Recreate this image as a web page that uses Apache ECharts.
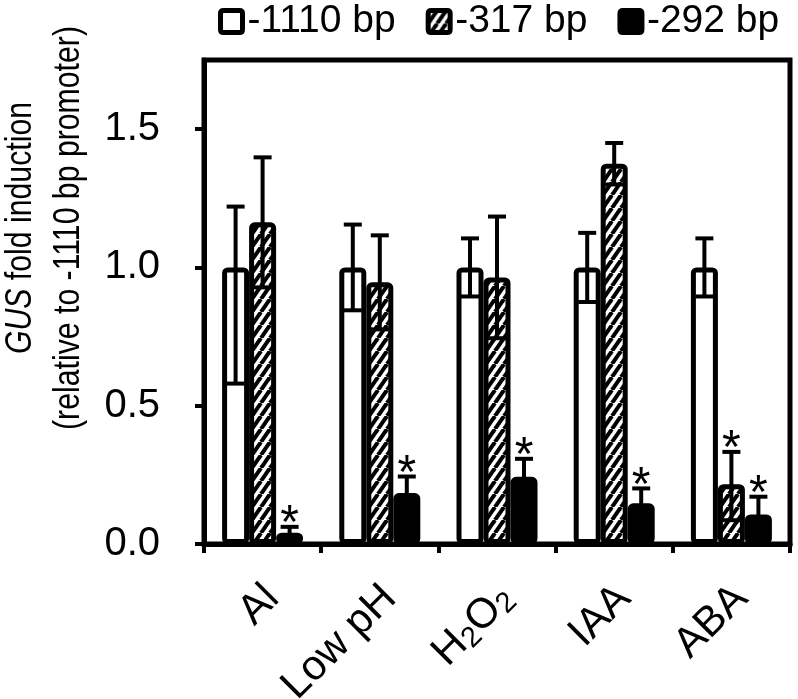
<!DOCTYPE html>
<html>
<head>
<meta charset="utf-8">
<script src="https://cdn.jsdelivr.net/npm/echarts@6/dist/echarts.min.js"></script>
<style>
html,body{margin:0;padding:0;background:#fff;}
#chart{width:798px;height:699px;}
</style>
</head>
<body>
<div id="chart"></div>
<script>
// ---- data ----
var categories = ['Al', 'Low pH', 'H2O2', 'IAA', 'ABA'];
var seriesNames = ['-1110 bp', '-317 bp', '-292 bp'];
var bp1110 = [1.0, 1.0, 1.0, 1.0, 1.0];
var bp1110ErrUp = [0.22, 0.155, 0.105, 0.125, 0.105];
var bp1110ErrLo = [0.42, 0.155, 0.105, 0.125, 0.105];
var bp317 = [1.163, 0.946, 0.964, 1.375, 0.216];
var bp317ErrUp = [0.235, 0.17, 0.22, 0.075, 0.117];
var bp317ErrLo = [0.235, 0.17, 0.22, 0.075, 0.13];
var bp292 = [0.041, 0.184, 0.243, 0.147, 0.107];
var bp292ErrUp = [0.021, 0.06, 0.065, 0.054, 0.064];
var bp292ErrLo = [0.021, 0.06, 0.065, 0.054, 0.064];
var sig1110 = [false, false, false, false, false];
var sig317 = [false, false, false, false, true];
var sig292 = [true, true, true, true, true];
var yTicks = [0, 0.5, 1.0, 1.5];
var yAxisTitle1 = '{i|GUS} fold induction';
var yAxisTitle2 = '(relative to -1110 bp promoter)';

// ---- hatch pattern ----
function makeHatch() {
  var w = 9, h = 13;
  var c = document.createElement('canvas');
  c.width = w; c.height = h;
  var ctx = c.getContext('2d');
  ctx.fillStyle = '#fff';
  ctx.fillRect(0, 0, w, h);
  ctx.strokeStyle = '#000';
  ctx.lineWidth = 4;
  for (var k = -1; k <= 1; k++) {
    ctx.beginPath();
    ctx.moveTo(k * w, h);
    ctx.lineTo(k * w + w, 0);
    ctx.stroke();
  }
  return c;
}
var hatch = makeHatch();

var chart = echarts.init(document.getElementById('chart'), null, {renderer: 'canvas'});
var BAR_W = 27;
var FONT = 'Liberation Sans, Arial, sans-serif';
var ICON = 'path://M3,0 H19 Q22,0 22,3 V19 Q22,22 19,22 H3 Q0,22 0,19 V3 Q0,0 3,0 Z';

function errSeries(name, vals, errUp, errLo, sigs, offset) {
  var data = vals.map(function (v, i) { return [i, v, errUp[i], errLo[i], sigs[i] ? 1 : 0]; });
  return {
    type: 'custom',
    name: name + ' err',
    z: 5,
    silent: true,
    data: data,
    renderItem: function (params, api) {
      var i = api.value(0), v = api.value(1), eu = api.value(2), el = api.value(3), s = api.value(4);
      var base = api.coord([i, v]);
      var x = base[0] + offset;
      var yHi = api.coord([i, v + eu])[1];
      var yLo = api.coord([i, Math.max(0, v - el)])[1];
      var cap = 9;
      var st = {stroke: '#000', lineWidth: 4};
      var children = [
        {type: 'line', shape: {x1: x, y1: yHi, x2: x, y2: yLo}, style: st},
        {type: 'line', shape: {x1: x - cap, y1: yHi, x2: x + cap, y2: yHi}, style: st},
        {type: 'line', shape: {x1: x - cap, y1: yLo, x2: x + cap, y2: yLo}, style: st}
      ];
      if (s) {
        children.push({
          type: 'text',
          style: {
            x: x, y: yHi - 2, text: '*',
            fill: '#000', font: '48px ' + FONT,
            textAlign: 'center', textVerticalAlign: 'middle'
          }
        });
      }
      return {type: 'group', children: children};
    }
  };
}

var barBase = {
  type: 'bar',
  barWidth: BAR_W,
  barGap: '0%',
  z: 3
};

var option = {
  backgroundColor: '#fff',
  animation: false,
  textStyle: {fontFamily: FONT, color: '#000'},
  legend: {
    data: seriesNames.map(function (n) { return {name: n, icon: ICON}; }),
    left: 218,
    top: 2,
    padding: 0,
    itemWidth: 22,
    itemHeight: 22,
    itemGap: 30,
    itemStyle: {borderWidth: 5, borderColor: '#000'},
    textStyle: {fontSize: 39, color: '#000', fontFamily: FONT}
  },
  grid: {
    left: 204, right: 8, top: 60, bottom: 155,
    show: true, borderColor: '#000', borderWidth: 5,
    containLabel: false,
    outerBoundsMode: 'none'
  },
  xAxis: {
    type: 'category',
    data: categories,
    axisLine: {lineStyle: {color: '#000', width: 5}},
    axisTick: {show: true, length: 9, lineStyle: {color: '#000', width: 4}},
    axisLabel: {
      rotate: 45, fontSize: 42, color: '#000', margin: 38, fontFamily: FONT,
      padding: [28, 0, 0, 0],
      formatter: function (v) { return v === 'H2O2' ? 'H{s|2}O{s|2}' : v; },
      rich: {s: {fontSize: 29, verticalAlign: 'bottom', padding: [16, 0, 0, 0], fontFamily: FONT}}
    },
    splitLine: {show: false}
  },
  yAxis: {
    type: 'value',
    min: 0, max: 1.75, interval: 0.5,
    axisLine: {show: true, lineStyle: {color: '#000', width: 5}},
    axisTick: {show: true, length: 9, customValues: yTicks, lineStyle: {color: '#000', width: 4}},
    axisLabel: {
      fontSize: 40, color: '#000', margin: 44, fontFamily: FONT,
      customValues: yTicks,
      formatter: function (v) { return v.toFixed(1); }
    },
    splitLine: {show: false}
  },
  graphic: [{
    type: 'text',
    x: 45, y: 228,
    rotation: Math.PI / 2,
    scaleX: 0.84,
    style: {
      text: yAxisTitle1 + '\n' + yAxisTitle2,
      font: '36px ' + FONT,
      fill: '#000',
      align: 'center', verticalAlign: 'middle',
      textAlign: 'center', textVerticalAlign: 'middle',
      lineHeight: 48,
      rich: {i: {fontStyle: 'italic', fontSize: 36, fontFamily: FONT, lineHeight: 48}}
    }
  }],
  series: [
    Object.assign({}, barBase, {
      name: seriesNames[0], data: bp1110,
      itemStyle: {color: '#fff', borderColor: '#000', borderWidth: 5, borderRadius: 3}
    }),
    Object.assign({}, barBase, {
      name: seriesNames[1], data: bp317,
      itemStyle: {color: {image: hatch, repeat: 'repeat'}, borderColor: '#000', borderWidth: 5, borderRadius: 3}
    }),
    Object.assign({}, barBase, {
      name: seriesNames[2], data: bp292,
      itemStyle: {color: '#000', borderColor: '#000', borderWidth: 5, borderRadius: 3}
    }),
    errSeries(seriesNames[0], bp1110, bp1110ErrUp, bp1110ErrLo, sig1110, -BAR_W),
    errSeries(seriesNames[1], bp317, bp317ErrUp, bp317ErrLo, sig317, 0),
    errSeries(seriesNames[2], bp292, bp292ErrUp, bp292ErrLo, sig292, BAR_W)
  ]
};
chart.setOption(option);
</script>
</body>
</html>
